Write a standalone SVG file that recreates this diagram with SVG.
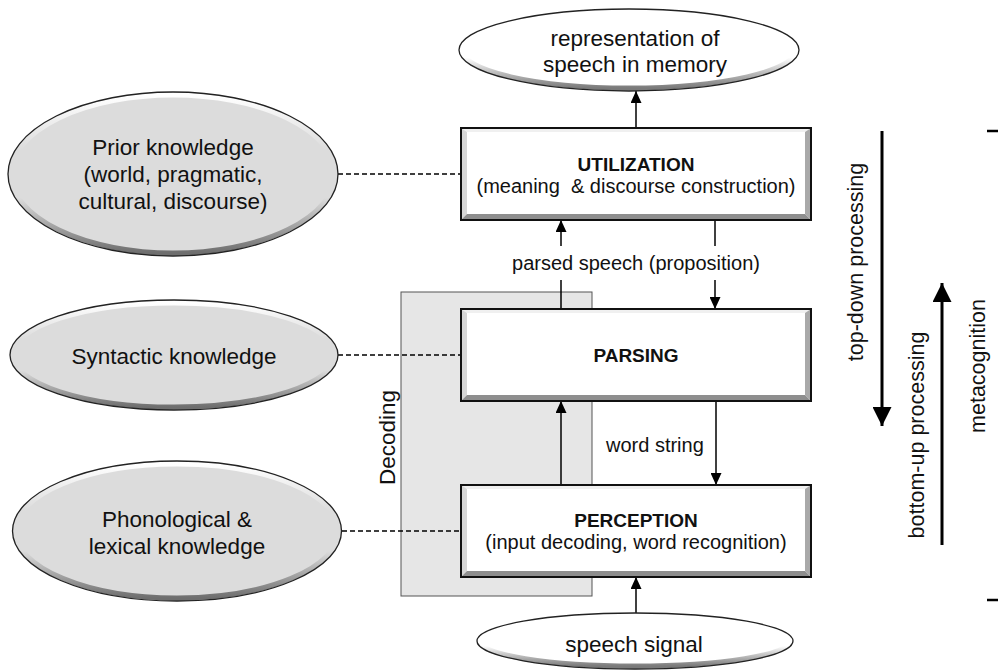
<svg xmlns="http://www.w3.org/2000/svg" xmlns:xlink="http://www.w3.org/1999/xlink" width="998" height="670" viewBox="0 0 998 670">
  <style>
    text { font-family: "Liberation Sans", Arial, sans-serif; fill: #111; }
    .big { font-size: 22.5px; }
    .mid { font-size: 20px; }
    .title { font-size: 19px; font-weight: bold; }
    .side { font-size: 21.5px; }
    .edge { stroke: #000; stroke-width: 1.5; fill: none; }
    .heavy { stroke: #000; stroke-width: 3; fill: none; }
    .dash { stroke: #000; stroke-width: 1.4; stroke-dasharray: 5 3; fill: none; }
    .outline { fill: none; stroke: #222; stroke-width: 1.3; }
  </style>
  <defs>
    <linearGradient id="rimGray" x1="0" y1="0" x2="0" y2="1">
      <stop offset="0" stop-color="#ffffff"/>
      <stop offset="0.35" stop-color="#dcdcdc"/>
      <stop offset="0.65" stop-color="#dcdcdc"/>
      <stop offset="1" stop-color="#6e6e6e"/>
    </linearGradient>
    <linearGradient id="rimWhite" x1="0" y1="0" x2="0" y2="1">
      <stop offset="0" stop-color="#ffffff"/>
      <stop offset="0.6" stop-color="#ffffff"/>
      <stop offset="1" stop-color="#7a7a7a"/>
    </linearGradient>
    <marker id="tip" markerUnits="userSpaceOnUse" markerWidth="12" markerHeight="11" refX="12" refY="5.5" orient="auto">
      <path d="M0,0 L12,5.5 L0,11 Z" fill="#000"/>
    </marker>
    <marker id="bigTip" markerUnits="userSpaceOnUse" markerWidth="20" markerHeight="19" refX="19" refY="9.5" orient="auto">
      <path d="M0,0 L19,9.5 L0,19 Z" fill="#000"/>
    </marker>
    <!-- bevelled process box, 350 x 92 -->
    <g id="bevelBox">
      <rect x="0" y="0" width="350" height="92" fill="#fff"/>
      <polygon points="0,0 350,0 344,4 6,4" fill="#f0f0f0"/>
      <polygon points="0,0 6,4 6,86 0,92" fill="#d6d6d6"/>
      <polygon points="350,0 350,92 344,86 344,4" fill="#a9a9a9"/>
      <polygon points="0,92 350,92 344,86 6,86" fill="#8e8e8e"/>
      <rect x="0" y="0" width="350" height="92" fill="none" stroke="#111" stroke-width="2"/>
    </g>
  </defs>

  <rect width="998" height="670" fill="#fff"/>

  <!-- decoding panel behind parsing and perception -->
  <g id="decoding">
    <rect x="401" y="292" width="191" height="304" fill="#e6e6e6" stroke="#555" stroke-width="1"/>
    <text class="big" transform="translate(395,437.5) rotate(-90)" text-anchor="middle">Decoding</text>
  </g>

  <!-- connectors -->
  <g id="connectors">
    <line class="dash" x1="338" y1="174" x2="461" y2="174"/>
    <line class="dash" x1="338" y1="355" x2="461" y2="355"/>
    <line class="dash" x1="342" y1="531" x2="461" y2="531"/>
    <!-- utilization to memory -->
    <line class="edge" x1="636" y1="128" x2="636" y2="91" marker-end="url(#tip)"/>
    <!-- parsing up to utilization -->
    <line class="edge" x1="561" y1="309" x2="561" y2="280"/>
    <line class="edge" x1="561" y1="246" x2="561" y2="220" marker-end="url(#tip)"/>
    <!-- utilization down to parsing -->
    <line class="edge" x1="715" y1="220" x2="715" y2="246"/>
    <line class="edge" x1="715" y1="280" x2="715" y2="309" marker-end="url(#tip)"/>
    <!-- perception up to parsing -->
    <line class="edge" x1="561" y1="485" x2="561" y2="401" marker-end="url(#tip)"/>
    <!-- parsing down to perception -->
    <line class="edge" x1="716" y1="401" x2="716" y2="485" marker-end="url(#tip)"/>
    <!-- speech signal into perception -->
    <line class="edge" x1="636" y1="613" x2="636" y2="577" marker-end="url(#tip)"/>
    <text class="mid" x="636" y="270" text-anchor="middle">parsed speech (proposition)</text>
    <text class="mid" x="606" y="452">word string</text>
  </g>

  <!-- memory representation -->
  <g id="memory">
    <ellipse cx="629" cy="50" rx="170" ry="41" fill="#fff"/>
    <ellipse cx="629" cy="50" rx="167" ry="38" fill="none" stroke="url(#rimWhite)" stroke-width="5"/>
    <ellipse class="outline" cx="629" cy="50" rx="170" ry="41"/>
    <text class="big" x="635" y="46" text-anchor="middle">representation of</text>
    <text class="big" x="635" y="72" text-anchor="middle">speech in memory</text>
  </g>

  <g id="utilization">
    <use xlink:href="#bevelBox" href="#bevelBox" x="461" y="128"/>
    <text class="title" x="636" y="171" text-anchor="middle">UTILIZATION</text>
    <text class="mid" x="636" y="193" text-anchor="middle" xml:space="preserve">(meaning  &amp; discourse construction)</text>
  </g>

  <g id="parsing">
    <use xlink:href="#bevelBox" href="#bevelBox" x="461" y="309"/>
    <text class="title" x="636" y="362" text-anchor="middle">PARSING</text>
  </g>

  <g id="perception">
    <use xlink:href="#bevelBox" href="#bevelBox" x="461" y="485"/>
    <text class="title" x="636" y="527" text-anchor="middle">PERCEPTION</text>
    <text class="mid" x="636" y="549" text-anchor="middle">(input decoding, word recognition)</text>
  </g>

  <g id="speech-signal">
    <ellipse cx="635" cy="641" rx="158" ry="28" fill="#fff"/>
    <ellipse cx="635" cy="641" rx="155" ry="25" fill="none" stroke="url(#rimWhite)" stroke-width="5"/>
    <ellipse class="outline" cx="635" cy="641" rx="158" ry="28"/>
    <text class="big" x="634" y="652" text-anchor="middle">speech signal</text>
  </g>

  <g id="prior-knowledge">
    <ellipse cx="173" cy="174" rx="165" ry="82" fill="#dcdcdc"/>
    <ellipse cx="173" cy="174" rx="162" ry="79" fill="none" stroke="url(#rimGray)" stroke-width="5"/>
    <ellipse class="outline" cx="173" cy="174" rx="165" ry="82"/>
    <text class="big" x="173" y="155" text-anchor="middle">Prior knowledge</text>
    <text class="big" x="173" y="182" text-anchor="middle">(world, pragmatic,</text>
    <text class="big" x="173" y="209" text-anchor="middle">cultural, discourse)</text>
  </g>

  <g id="syntactic-knowledge">
    <ellipse cx="174" cy="355" rx="164" ry="55" fill="#dcdcdc"/>
    <ellipse cx="174" cy="355" rx="161" ry="52" fill="none" stroke="url(#rimGray)" stroke-width="5"/>
    <ellipse class="outline" cx="174" cy="355" rx="164" ry="55"/>
    <text class="big" x="174" y="364" text-anchor="middle">Syntactic knowledge</text>
  </g>

  <g id="lexical-knowledge">
    <ellipse cx="177" cy="531" rx="164.5" ry="70" fill="#dcdcdc"/>
    <ellipse cx="177" cy="531" rx="161.5" ry="67" fill="none" stroke="url(#rimGray)" stroke-width="5"/>
    <ellipse class="outline" cx="177" cy="531" rx="164.5" ry="70"/>
    <text class="big" x="177" y="527" text-anchor="middle">Phonological &amp;</text>
    <text class="big" x="177" y="554" text-anchor="middle">lexical knowledge</text>
  </g>

  <!-- processing direction and metacognition span -->
  <g id="processing">
    <line class="heavy" x1="882" y1="131" x2="882" y2="426" marker-end="url(#bigTip)"/>
    <text class="side" transform="translate(863,262) rotate(-90)" text-anchor="middle">top-down processing</text>
    <line class="heavy" x1="942" y1="545" x2="942" y2="283" marker-end="url(#bigTip)"/>
    <text class="side" transform="translate(924,435) rotate(-90)" text-anchor="middle">bottom-up processing</text>
  </g>

  <g id="metacognition">
    <line x1="987" y1="131" x2="998" y2="131" stroke="#000" stroke-width="2.5"/>
    <line x1="987" y1="600" x2="998" y2="600" stroke="#000" stroke-width="2.5"/>
    <text class="side" transform="translate(985,366) rotate(-90)" text-anchor="middle">metacognition</text>
  </g>
</svg>
